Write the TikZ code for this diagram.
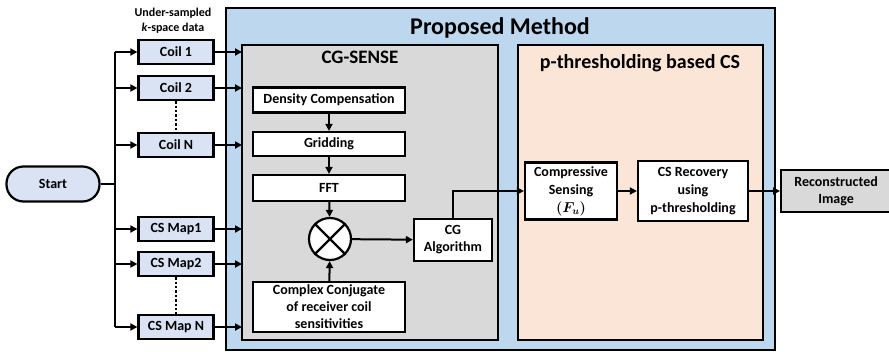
\documentclass[tikz,border=0pt]{standalone}
\usepackage{amsmath}
\usepackage{fontspec}
\setmainfont{Carlito}
\usetikzlibrary{arrows.meta,calc}
\definecolor{bluebg}{HTML}{BDD7EE}
\definecolor{graybg}{HTML}{D9D9D9}
\definecolor{peachbg}{HTML}{FBE5D6}
\definecolor{coilbg}{HTML}{DAE3F3}
\tikzset{
  box/.style={draw=black, line width=2.2pt, fill=white, inner sep=1pt, align=center,
    font=\fontsize{14}{17}\selectfont\bfseries},
  coil/.style={box, fill=coilbg, minimum width=75pt, minimum height=24pt},
  panel/.style={draw=black, line width=2.2pt},
  arr/.style={line width=2pt, -{Triangle[length=7pt,width=7pt]}},
  ln/.style={line width=2pt},
  dots/.style={line width=2.4pt, dotted},
}
\begin{document}
\begin{tikzpicture}[x=1pt,y=-1pt]
\useasboundingbox (0,0) rectangle (889,351);
% outer panel
\draw[panel, line width=1.8pt, fill=bluebg] (226,8) rectangle (775,350);
\node[font=\fontsize{24}{27}\selectfont\bfseries] (ptitle) at (500,28) {Proposed Method};
\draw[panel, fill=graybg] (242,45) rectangle (498,340);
\coordinate (sensew) at (242,190);
\node[font=\fontsize{19}{21}\selectfont\bfseries] (stitle) at (360,57) {CG-SENSE};
\draw[panel, fill=peachbg] (518,45) rectangle (763,340);
\node[font=\fontsize{20}{22}\selectfont\bfseries] (ttitle) at (640,63) {p-thresholding based CS};

% left side
\node[box, fill=coilbg, rounded corners=17pt, minimum width=93pt, minimum height=35pt] (start) at (53,184) {Start};
\node[align=center, font=\fontsize{12}{15}\selectfont\bfseries] (lbl) at (173,21) {Under-sampled\\\textit{k}-space data};
\node[coil] (c1) at (176,52) {Coil 1};
\node[coil] (c2) at (176,88) {Coil 2};
\node[coil] (cn) at (176,145) {Coil N};
\node[coil] (m1) at (176,229) {CS Map1};
\node[coil] (m2) at (176,264) {CS Map2};
\node[coil] (mn) at (176,327) {CS Map N};
\draw[dots] (c2.south) -- (cn.north);
\draw[dots] (m2.south) -- (mn.north);
\coordinate (bt) at (115,52);
\coordinate (bb) at (115,327);
\draw[ln] (bt) -- (bb);
\draw[ln] (start.east) -- (start.east -| bt);
\foreach \n in {c1,c2,cn,m1,m2,mn}{
  \draw[arr] (\n.west -| bt) -- (\n.west);
  \draw[arr] (\n.east) -- (\n.east -| sensew);
}

% CG-SENSE internals
\node[box, minimum width=152pt, minimum height=25pt] (dc) at (329,100) {Density Compensation};
\node[box, minimum width=152pt, minimum height=24pt] (gr) at (329,144) {Gridding};
\node[box, minimum width=152pt, minimum height=26pt] (fft) at (329,188) {FFT};
\node[circle, draw=black, line width=2.2pt, fill=white, minimum size=42pt, inner sep=0pt] (mul) at (330,239) {};
\draw[line width=2.2pt] (mul.north west) -- (mul.south east);
\draw[line width=2.2pt] (mul.north east) -- (mul.south west);
\node[box, minimum width=152pt, minimum height=50pt, font=\fontsize{14}{17}\selectfont\bfseries] (cc) at (329,307) {Complex Conjugate\\of receiver coil\\sensitivities};
\node[box, minimum width=78pt, minimum height=42pt] (cg) at (453,240) {CG\\Algorithm};
\draw[arr] (dc) -- (gr);
\draw[arr] (gr) -- (fft);
\draw[arr] (fft) -- (mul);
\draw[arr] (cc) -- (mul);
\draw[arr] (mul) -- (cg);

% p-thresholding internals
\node[box, minimum width=92pt, minimum height=57pt, font=\fontsize{14}{18}\selectfont\bfseries] (cs) at (571,191) {Compressive\\Sensing\\{\boldmath$(F_u)$}};
\node[box, minimum width=110pt, minimum height=60pt, font=\fontsize{14}{18}\selectfont\bfseries] (rec) at (693,191) {CS Recovery\\using\\p-thresholding};
\node[box, fill=graybg, minimum width=110pt, minimum height=42pt, anchor=west] (img) at (780,191) {Reconstructed\\Image};
\draw[arr] (cg.north) |- (cs.west);
\draw[arr] (cs) -- (rec);
\draw[arr] (rec) -- (img);
\end{tikzpicture}
\end{document}
